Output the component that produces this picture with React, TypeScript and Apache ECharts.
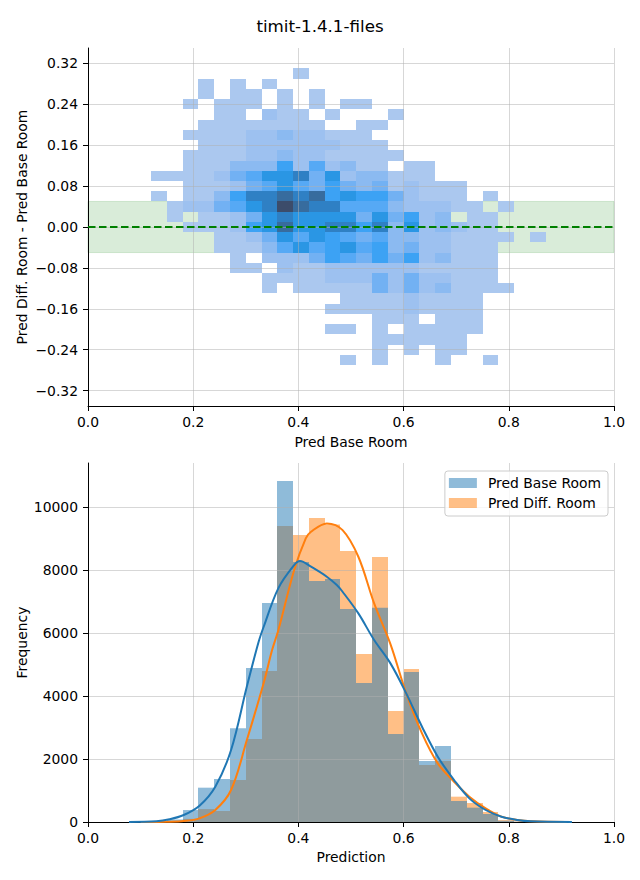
import React, { useEffect, useRef } from 'react';
import * as echarts from 'echarts';

// ---------- data ----------
const TITLE = 'timit-1.4.1-files';
const FONT = 'DejaVu Sans';

// shared bin edges (x) for the 2D histogram and the 1D histograms
const HIST_EDGES = [
  0.09, 0.12, 0.15, 0.18, 0.21, 0.24, 0.27, 0.3, 0.33, 0.36, 0.39, 0.42, 0.45, 0.48,
  0.51, 0.54, 0.57, 0.6, 0.63, 0.66, 0.69, 0.72, 0.75, 0.78, 0.81, 0.84, 0.87,
];
const Y_BIN_H = 0.02;

// 2D histogram: row centers (top to bottom) and per-bin intensity level ('.' empty, 1..9, X = 10)
const HEAT_Y_CENTERS = [
  0.3, 0.28, 0.26, 0.24, 0.22, 0.2, 0.18, 0.16, 0.14, 0.12, 0.1, 0.08, 0.06, 0.04, 0.02,
  0.0, -0.02, -0.04, -0.06, -0.08, -0.1, -0.12, -0.14, -0.16, -0.18, -0.2, -0.22, -0.24, -0.26,
];
const HEAT_ROWS = [
  '..........1...............',
  '....1.1.1.................',
  '....1.11.1.1..............',
  '...1.111.1.1.11...........',
  '.....11.211.1...1.........',
  '....11111111..11..........',
  '...111122322111...........',
  '....111222222111..........',
  '...11112232211111.........',
  '...1113336252311.11.......',
  '.111124577847233111.......',
  '...111245754643412111.....',
  '.1.113688989676642111.1...',
  '..1224578X988555322211.1..',
  '..1.1124787777474623.11...',
  '...11126797788683723211...',
  '.....1124757654533221111.1',
  '.....111357567563422111...',
  '......1.222465464623111...',
  '......11.21122222211111...',
  '........111122242422111...',
  '........1.11111424231111..',
  '.............111121111....',
  '............1111121111....',
  '...............111.111....',
  '............11.1.11111....',
  '...............111111.....',
  '...............1.1.11.....',
  '.............1.1...1..1...',
];
const LEVEL_COLORS = [
  '#abc8ef', '#9dc1f0', '#8bbaf1', '#72b1f3', '#56a9f5',
  '#3ca2f4', '#2a96e4', '#2f80c4', '#376c9e', '#3c4c6a',
];

// 1D histograms (counts per bin of HIST_EDGES)
const BASE_COUNTS = [
  5, 20, 80, 380, 1090, 1365, 2974, 4889, 6952, 10825, 8254, 7651, 7714,
  6762, 4413, 6804, 2794, 4762, 1937, 2413, 667, 455, 254, 40, 10, 3,
];
const DIFF_COUNTS = [
  0, 5, 20, 100, 410, 350, 1333, 2635, 4794, 9397, 9111, 9651, 9450,
  8603, 5333, 8413, 3524, 4857, 1810, 1937, 804, 603, 317, 60, 15, 5,
];

// KDE curves (scaled to counts)
const BASE_KDE_X = [
  0.078, 0.13, 0.155, 0.182, 0.212, 0.242, 0.272, 0.302, 0.324, 0.334, 0.362, 0.392, 0.403,
  0.424, 0.454, 0.473, 0.484, 0.514, 0.544, 0.575, 0.605, 0.635, 0.665, 0.696, 0.725, 0.756,
  0.786, 0.816, 0.842, 0.92,
];
const BASE_KDE_Y = [
  0, 21, 85, 222, 518, 1122, 2286, 4300, 5700, 6200, 7428, 8159, 8286,
  8106, 7788, 7524, 7312, 6624, 5778, 5037, 4085, 3026, 2074, 1333, 751, 381,
  169, 63, 21, 0,
];
const DIFF_KDE_X = [
  0.1, 0.15, 0.182, 0.212, 0.242, 0.272, 0.302, 0.334, 0.35, 0.362, 0.392, 0.414, 0.424,
  0.454, 0.484, 0.514, 0.544, 0.575, 0.605, 0.635, 0.665, 0.696, 0.725, 0.756, 0.786,
  0.816, 0.842, 0.91,
];
const DIFF_KDE_Y = [
  0, 8, 30, 116, 381, 1016, 2603, 4413, 5460, 6095, 8000, 9005, 9217,
  9481, 9270, 8423, 6942, 5650, 4085, 2815, 1862, 1280, 804, 434, 169,
  63, 20, 0,
];

const BAND = [-0.05, 0.05];
const Y_TICKS_TOP = [-0.32, -0.24, -0.16, -0.08, 0, 0.08, 0.16, 0.24, 0.32];
const Y_TICKS_BOT = [0, 2000, 4000, 6000, 8000, 10000];

const SERIES_BASE = 'Pred Base Room';
const SERIES_DIFF = 'Pred Diff. Room';
const BASE_FILL = 'rgba(31,119,180,0.5)';
const DIFF_FILL = 'rgba(255,127,14,0.5)';

// ---------- option ----------
function buildOption(): any {
  const heatData: number[][] = [];
  HEAT_ROWS.forEach((row, r) => {
    for (let k = 0; k < row.length; k++) {
      const c = row[k];
      if (c === '.') continue;
      const level = c === 'X' ? 10 : Number(c);
      heatData.push([HIST_EDGES[k], HIST_EDGES[k + 1], HEAT_Y_CENTERS[r], level]);
    }
  });

  const gridColor = 'rgba(176,176,176,0.5)';
  const labelStyle = { fontSize: 13.9, color: '#000', fontFamily: FONT };
  const nameStyle = { fontSize: 13.9, color: '#000', fontFamily: FONT };
  const axisCommon = {
    z: 3,
    nameMoveOverlap: false,
    axisLine: { show: true, onZero: false, lineStyle: { color: '#000', width: 1 } },
    axisTick: { show: true, length: 5, lineStyle: { color: '#000', width: 1 } },
    splitLine: { show: true, lineStyle: { color: gridColor, width: 1 } },
  };
  const xAxisDef = (gridIndex: number, name: string, nameGap: number) => ({
    ...axisCommon,
    type: 'value',
    gridIndex,
    min: 0,
    max: 1,
    interval: 0.2,
    name,
    nameLocation: 'middle',
    nameGap,
    nameTextStyle: nameStyle,
    axisLabel: { ...labelStyle, margin: 9, formatter: (v: number) => v.toFixed(1) },
  });

  const histSeries = (name: string, counts: number[], fill: string) => ({
    type: 'custom',
    name,
    xAxisIndex: 1,
    yAxisIndex: 1,
    z: 2,
    silent: true,
    data: counts.map((c, k) => [HIST_EDGES[k], HIST_EDGES[k + 1], c]),
    encode: { x: [0, 1], y: 2 },
    renderItem: (_p: any, api: any) => {
      const c = api.value(2);
      if (!c) return null;
      const a = api.coord([api.value(0), c]);
      const b = api.coord([api.value(1), 0]);
      const x0 = Math.round(a[0]);
      const x1 = Math.round(b[0]);
      const y0 = a[1];
      const y1 = b[1];
      return { type: 'rect', shape: { x: x0, y: y0, width: x1 - x0, height: y1 - y0 }, style: { fill } };
    },
  });

  const kdeSeries = (name: string, xs: number[], ys: number[], color: string) => ({
    type: 'line',
    name,
    xAxisIndex: 1,
    yAxisIndex: 1,
    z: 4,
    silent: true,
    showSymbol: false,
    smooth: 0.35,
    data: xs.map((x, i) => [x, ys[i]]),
    lineStyle: { color, width: 2 },
    itemStyle: { color },
  });

  return {
    animation: false,
    textStyle: { fontFamily: FONT },
    title: {
      text: TITLE,
      left: 'center',
      top: 12,
      textStyle: { fontSize: 16.7, fontWeight: 'normal', color: '#000', fontFamily: FONT },
    },
    legend: {
      data: [
        { name: SERIES_BASE, icon: 'rect', itemStyle: { color: BASE_FILL } },
        { name: SERIES_DIFF, icon: 'rect', itemStyle: { color: DIFF_FILL } },
      ],
      orient: 'vertical',
      right: 32,
      top: 471,
      itemWidth: 28,
      itemHeight: 10,
      itemGap: 6,
      selectedMode: false,
      z: 10,
      backgroundColor: 'rgba(255,255,255,0.8)',
      borderColor: '#cccccc',
      borderWidth: 1,
      borderRadius: 3,
      padding: [5, 7, 6, 4],
      textStyle: { fontSize: 13.9, color: '#000', fontFamily: FONT, lineHeight: 14, padding: [0, 0, 0, 6] },
    },
    grid: [
      { left: 88, right: 26, top: 48, height: 358 },
      { left: 88, right: 26, top: 463, height: 359 },
    ],
    xAxis: [xAxisDef(0, 'Pred Base Room', 29), xAxisDef(1, 'Prediction', 28)],
    yAxis: [
      {
        ...axisCommon,
        type: 'value',
        gridIndex: 0,
        min: -0.35,
        max: 0.35,
        name: 'Pred Diff. Room - Pred Base Room',
        nameLocation: 'middle',
        nameGap: 59,
        nameTextStyle: nameStyle,
        axisTick: { ...axisCommon.axisTick, customValues: Y_TICKS_TOP },
        axisLabel: {
          ...labelStyle,
          margin: 10,
          customValues: Y_TICKS_TOP,
          formatter: (v: number) => (v < -1e-9 ? '\u2212' : '') + Math.abs(v).toFixed(2),
        },
      },
      {
        ...axisCommon,
        type: 'value',
        gridIndex: 1,
        min: 0,
        max: 11400,
        name: 'Frequency',
        nameLocation: 'middle',
        nameGap: 59,
        nameTextStyle: nameStyle,
        axisTick: { ...axisCommon.axisTick, customValues: Y_TICKS_BOT },
        axisLabel: {
          ...labelStyle,
          margin: 10,
          customValues: Y_TICKS_BOT,
          formatter: (v: number) => String(Math.round(v)),
        },
      },
    ],
    visualMap: [
      {
        type: 'continuous',
        show: false,
        seriesIndex: 1,
        dimension: 3,
        min: 1,
        max: 10,
        inRange: { color: LEVEL_COLORS },
      },
    ],
    series: [
      {
        type: 'line',
        name: 'band',
        xAxisIndex: 0,
        yAxisIndex: 0,
        z: 1,
        silent: true,
        data: [],
        markArea: {
          silent: true,
          itemStyle: { color: 'rgba(0,128,0,0.15)', borderColor: 'rgba(0,128,0,0.15)', borderWidth: 1 },
          data: [[{ xAxis: 0, yAxis: BAND[0] }, { xAxis: 1, yAxis: BAND[1] }]],
        },
      },
      {
        type: 'custom',
        name: 'hist2d',
        xAxisIndex: 0,
        yAxisIndex: 0,
        z: 2,
        silent: true,
        data: heatData,
        encode: { x: [0, 1], y: 2 },
        renderItem: (_p: any, api: any) => {
          const yc = api.value(2);
          const a = api.coord([api.value(0), yc + Y_BIN_H / 2]);
          const b = api.coord([api.value(1), yc - Y_BIN_H / 2]);
          const x0 = Math.round(a[0]);
          const x1 = Math.round(b[0]);
          const y0 = Math.round(a[1]);
          const y1 = Math.round(b[1]);
          return {
            type: 'rect',
            shape: { x: x0, y: y0, width: x1 - x0, height: y1 - y0 },
            style: { fill: api.visual('color') },
          };
        },
      },
      {
        type: 'line',
        name: 'zero',
        xAxisIndex: 0,
        yAxisIndex: 0,
        z: 5,
        silent: true,
        data: [],
        markLine: {
          silent: true,
          symbol: 'none',
          label: { show: false },
          lineStyle: { color: '#008000', type: [7.5, 3.5], width: 2 },
          data: [{ yAxis: 0 }],
        },
      },
      histSeries(SERIES_DIFF, DIFF_COUNTS, DIFF_FILL),
      histSeries(SERIES_BASE, BASE_COUNTS, BASE_FILL),
      kdeSeries('kde-diff', DIFF_KDE_X, DIFF_KDE_Y, '#ff7f0e'),
      kdeSeries('kde-base', BASE_KDE_X, BASE_KDE_Y, '#1f77b4'),
    ],
  };
}

export default function App() {
  const ref = useRef<HTMLDivElement>(null);
  useEffect(() => {
    if (!ref.current) return;
    const chart = echarts.init(ref.current, undefined, { renderer: 'svg' });
    chart.setOption(buildOption());
    return () => chart.dispose();
  }, []);
  return (
    <div
      ref={ref}
      style={{ position: 'absolute', left: 0, top: 0, width: 640, height: 880, background: '#fff' }}
    />
  );
}
